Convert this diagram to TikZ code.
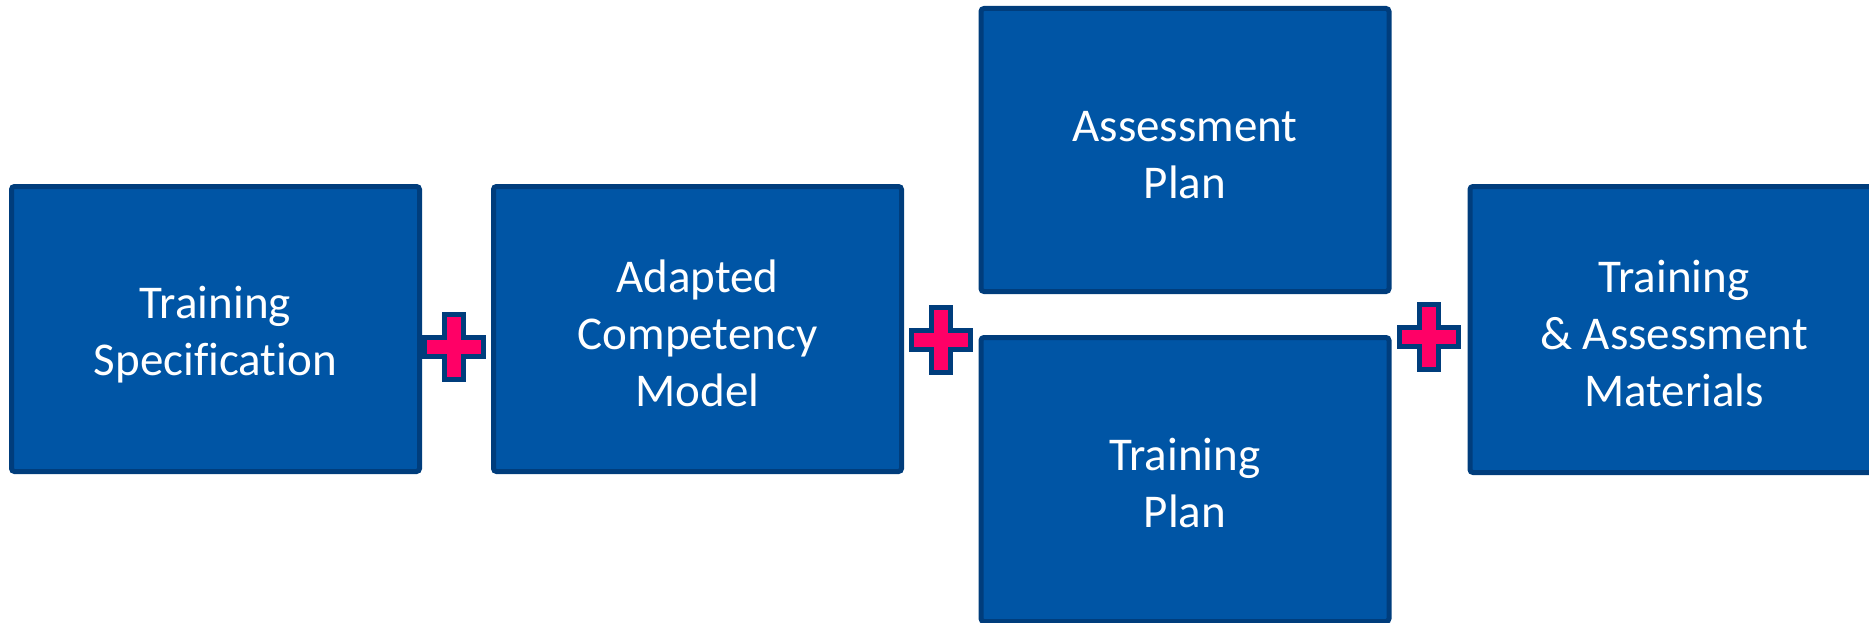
\documentclass[tikz,border=0pt]{standalone}
\usepackage{fontspec}
\setmainfont{Carlito}[Ligatures={NoCommon}]
\definecolor{boxfill}{HTML}{0055A5}
\definecolor{boxedge}{HTML}{003D7C}
\definecolor{plusfill}{HTML}{FF0066}
\begin{document}
\begin{tikzpicture}[x=1pt,y=-1pt,
  stagebox/.style={draw=boxedge, fill=boxfill, line width=5pt, rounded corners=3pt,
    minimum width=408pt, minimum height=285pt, inner sep=0pt},
  stagetext/.style={text=white, align=center, inner sep=0pt,
    font=\fontsize{47}{57}\selectfont},
  plussign/.pic={
    \draw[draw=boxedge, fill=plusfill, line width=5pt, line join=miter]
      (-9.5,-32.5) -- (9.5,-32.5) -- (9.5,-9.5) -- (29.5,-9.5) -- (29.5,9.5)
      -- (9.5,9.5) -- (9.5,32.5) -- (-9.5,32.5) -- (-9.5,9.5) -- (-29.5,9.5)
      -- (-29.5,-9.5) -- (-9.5,-9.5) -- cycle;
  }]
\useasboundingbox (0,0) rectangle (1869,623);
\clip (0,0) rectangle (1869,623);

% stages of the pipeline
\node[stagebox] (ts)  at (215.5,329) {};
\node[stagebox] (acm) at (697.5,329) {};
\node[stagebox, minimum height=283pt] (ap) at (1185,150) {};
\node[stagebox, minimum height=284pt] (tp) at (1185,479.5) {};
\node[stagebox, minimum height=286pt] (tam) at (1674,329.5) {};

% stage captions
\node[stagetext] (tsText)  at ([yshift=-6pt]ts.center)  {Training\\Specification};
\node[stagetext] (acmText) at ([yshift=-4pt]acm.center) {Adapted\\Competency\\Model};
\node[stagetext] (apText)  at ([yshift=-5pt]ap.center)  {Assessment\\Plan};
\node[stagetext] (tpText)  at ([yshift=-3pt]tp.center)  {Training\\Plan};
\node[stagetext] (tamText) at ([yshift=-4pt]tam.center) {Training\\\& Assessment\\Materials};

% plus signs joining the stages
\pic (plusA) at (454,347) {plussign};
\pic (plusB) at (941,340) {plussign};
\pic (plusC) at (1429,337) {plussign};
\end{tikzpicture}
\end{document}
